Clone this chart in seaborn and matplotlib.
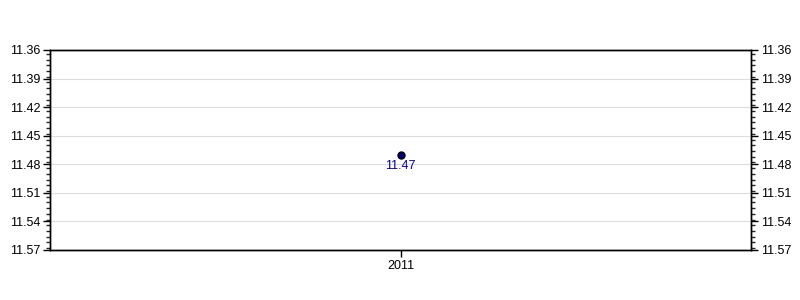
import matplotlib
matplotlib.use("Agg")
import matplotlib.pyplot as plt
import seaborn as sns
import pandas as pd
import numpy as np
from matplotlib.ticker import MultipleLocator, FixedLocator

years = [2011]
values = [11.47]
labels = ["11.47"]
yticks = [11.36, 11.39, 11.42, 11.45, 11.48, 11.51, 11.54, 11.57]

sns.set_style("white")
plt.rcParams['font.family'] = ['Liberation Sans', 'DejaVu Sans']

df = pd.DataFrame({"year": years, "value": values})

fig = plt.figure(figsize=(8, 3), dpi=100)
ax = fig.add_axes([0.0625, 0.1667, 0.87625, 0.6667])
sns.scatterplot(data=df, x="year", y="value", ax=ax, s=25, color="#000080",
                edgecolor="black", linewidth=1, zorder=5)
for x, y, t in zip(years, values, labels):
    ax.annotate(t, (x, y), xytext=(0, -3.5), textcoords="offset points",
                ha="center", va="top", color="#0000aa", fontsize=9)

ax.set_xlim(years[0] - 1, years[0] + 1)
ax.set_xticks(years)
ax.set_xticklabels([str(y) for y in years])
ax.set_ylim(yticks[-1], yticks[0])
ax.set_yticks(yticks)
ax.set_yticklabels([f"{v:.2f}" for v in yticks])
ax.yaxis.set_minor_locator(MultipleLocator(0.006))
ax.set_xlabel("")
ax.set_ylabel("")
ax.grid(axis="y", color="#dddddd", linewidth=0.8)
ax.set_axisbelow(True)
for s in ax.spines.values():
    s.set_color("black")
    s.set_linewidth(1)
ax.tick_params(axis="both", which="major", direction="out", length=5, width=1,
               colors="black", labelsize=9, left=True, bottom=True, pad=2)
ax.tick_params(axis="y", which="minor", direction="out", length=3, width=1, left=True)

ax2 = ax.twinx()
ax2.set_ylim(ax.get_ylim())
ax2.set_yticks(yticks)
ax2.set_yticklabels([f"{v:.2f}" for v in yticks])
ax2.yaxis.set_minor_locator(MultipleLocator(0.006))
ax2.tick_params(axis="y", which="major", direction="out", length=5, width=1,
                colors="black", labelsize=9, right=True, pad=2)
ax2.tick_params(axis="y", which="minor", direction="out", length=3, width=1, right=True)
for s in ax2.spines.values():
    s.set_color("black")
    s.set_linewidth(1)

fig.savefig("out.png", dpi=100)
